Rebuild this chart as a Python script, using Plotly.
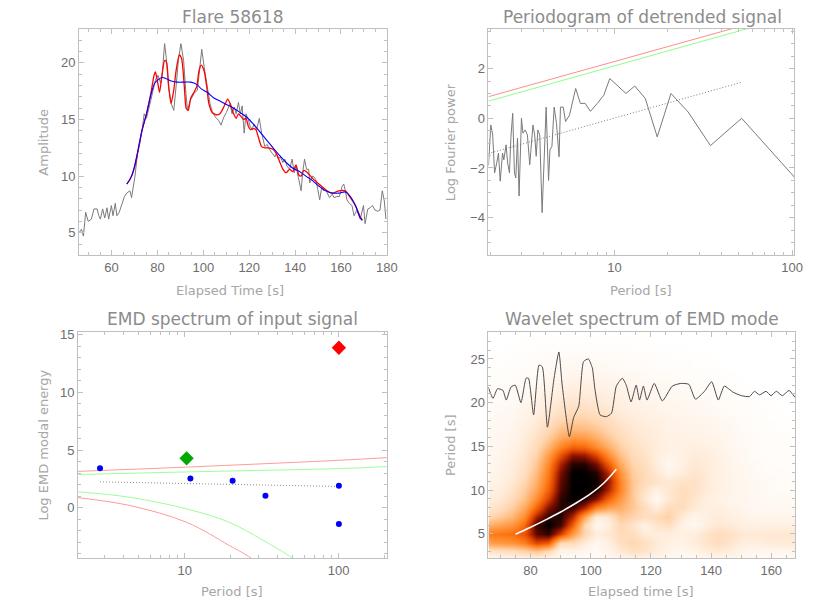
import plotly.graph_objects as go
import math

# ---------------- Panel 1: Flare light curve ----------------
sig_t = [45.8,46.9,47.7,48.7,49.8,51.2,52.3,53.7,54.4,55.1,56.1,57.0,58.0,58.7,59.9,60.6,61.6,62.3,63.3,64.4,
         65.6,66.6,68.0,68.7,69.5,70.2,71.3,72.3,73.3,74.2,75.2,76.2,77.1,78.1,79.1,80.2,81.4,82.1,83.1,83.8,
         84.8,86.0,87.1,88.1,89.1,90.2,91.4,92.4,93.1,94.3,96.0,97.4,98.6,99.3,100.3,101.7,102.9,103.9,105.3,106.7,
         107.7,108.9,110.0,111.0,111.7,112.5,113.5,114.3,115.3,116.1,116.9,117.8,118.6,119.6,120.4,121.2,122.1,123.2,124.4,125.4,
         126.1,126.8,127.8,129.0,130.1,131.2,131.8,132.7,133.5,134.7,135.5,136.4,137.6,138.7,139.6,140.4,141.4,142.6,143.3,144.1,
         145.0,145.9,146.4,147.6,148.4,149.0,149.9,150.7,151.6,152.5,153.3,154.2,155.0,156.2,157.0,158.2,159.3,160.5,161.2,161.9,
         162.6,163.6,164.8,165.7,166.9,168.4,169.1,169.8,170.5,171.7,172.7,173.7,174.8,176.0,177.0,178.0,178.9,179.6]
sig_v = [5.0,5.3,4.7,6.8,6.0,6.2,7.1,7.1,6.5,6.2,7.1,6.3,7.2,6.2,7.4,6.5,7.6,6.5,6.8,7.4,
         8.2,8.5,8.7,8.1,9.0,10.0,12.0,12.9,14.1,15.5,15.1,16.1,16.7,17.6,18.5,18.9,18.2,19.1,21.7,20.5,
         17.9,16.4,15.8,17.9,20.2,21.7,20.2,17.3,15.8,16.7,17.3,17.6,19.7,21.2,19.7,18.0,16.4,15.7,15.2,14.9,
         14.5,15.2,15.6,16.1,16.4,15.5,16.1,15.5,16.5,15.5,16.2,13.8,15.5,15.0,14.4,14.1,14.6,14.1,15.1,13.8,
         13.2,12.6,12.8,12.3,12.0,11.7,12.0,11.5,11.7,11.2,11.5,10.9,10.6,11.5,10.3,10.9,9.9,8.7,10.3,11.5,
         10.6,10.6,9.4,10.0,9.9,9.7,8.8,7.9,9.0,8.7,8.8,8.4,8.1,8.4,8.1,8.2,8.2,9.1,9.3,8.7,
         7.9,7.6,7.4,6.5,7.0,6.2,6.9,7.4,5.8,7.1,7.2,7.4,7.0,6.9,7.0,8.7,7.8,6.2]

emd_t = [66.6,68.0,70.2,71.6,73.3,75.2,77.1,78.5,79.1,79.9,80.9,81.9,83.1,83.9,84.9,85.9,87.1,88.1,89.5,90.5,
         91.7,92.5,93.4,94.5,95.9,97.1,98.1,99.1,100.3,101.4,102.4,103.9,106.0,107.2,108.9,110.6,111.7,113.2,114.3,115.3,
         116.3,117.5,118.6,119.6,120.6,121.8,122.9,123.9,125.4,126.8,128.2,130.1,131.8,133.2,134.7,136.1,137.6,139.0,140.4,141.6,
         142.6,143.8,145.4,147.6,150.4,153.3,156.2,159.1,161.9,164.1,166.3,168.4,169.3]
emd_v = [9.3,9.7,10.9,12.3,14.1,15.5,17.3,18.9,19.2,18.5,17.4,18.8,20.2,20.1,17.9,16.4,17.6,19.3,20.7,20.4,
         17.9,16.0,15.8,16.9,17.4,17.9,19.3,19.8,19.3,18.0,16.4,15.6,15.4,15.5,16.1,16.8,16.4,15.5,15.1,15.5,
         15.3,15.0,15.1,14.4,14.1,14.2,14.1,13.5,12.6,12.5,12.5,12.4,12.0,11.3,10.6,10.3,10.6,10.4,11.0,10.1,
         10.0,10.5,10.3,9.8,9.3,8.8,8.5,8.7,8.7,8.1,7.4,6.4,6.1]

trend_t = [66.6,68.7,70.9,73.0,75.2,77.3,78.8,80.2,81.9,83.8,86.0,88.8,91.7,94.5,97.1,99.1,101.7,104.6,107.4,110.3,
           113.2,116.1,118.9,121.8,124.7,127.5,130.4,133.3,136.1,139.0,141.9,144.7,147.6,150.5,153.3,156.2,159.1,161.9,164.1,166.3,168.4,169.3]
trend_v = [9.3,10.0,11.7,13.8,15.5,17.3,18.2,18.5,18.7,18.6,18.4,18.3,18.3,18.3,18.1,17.7,17.4,16.9,16.6,16.3,
           16.0,15.6,15.2,14.6,13.9,13.2,12.5,11.8,11.2,10.7,10.4,10.0,9.6,9.1,8.7,8.5,8.5,8.6,8.2,7.4,6.3,6.1]

# ---------------- Panel 2: Periodogram ----------------
per_p = [1.95,2.01,2.06,2.11,2.17,2.22,2.27,2.34,2.38,2.45,2.50,2.56,2.61,2.67,2.73,2.78,2.84,2.90,2.99,3.05,
         3.14,3.23,3.33,3.40,3.47,3.55,3.62,3.70,3.79,3.91,4.03,4.12,4.25,4.33,4.44,4.57,4.71,4.87,4.96,5.14,
         5.30,5.58,6.04,6.42,6.83,7.32,8.0,8.7,9.4,10.4,11.6,13.0,14.9,17.4,20.8,26.0,34.7,52.0,104.0]
per_v = [-1.9,-0.27,-0.67,-2.2,-1.8,-1.4,-2.53,-1.4,-1.67,-1.07,-1.8,-2.2,-0.73,0.2,-2.2,-2.4,-0.8,-3.13,0.0,-0.6,
         -0.47,-0.67,-1.87,-1.0,-0.27,-0.67,-1.53,-0.47,-0.67,-3.8,-1.27,0.45,-2.5,-1.27,-1.13,0.45,-0.2,-1.55,0.45,0.45,
         -0.13,0.13,1.2,0.6,0.6,0.28,0.6,0.93,1.6,1.3,1.0,1.3,0.8,-0.75,1.0,0.25,-1.1,0.0,-2.4]
conf99_p = [1.95, 103.0]
conf99_v = [0.87, 4.31]
conf95_p = [1.95, 103.0]
conf95_v = [0.69, 4.14]
fit_p = [1.95, 52.0]
fit_v = [-1.42, 1.45]

# ---------------- Panel 3: EMD spectrum ----------------
emd_per = [2.82, 10.9, 20.5, 33.5, 100.5, 100.5]
emd_en = [3.42, 2.53, 2.33, 1.03, 1.9, -1.41]
sig_mode_per = [10.3]
sig_mode_en = [4.28]
trend_mode_per = [100.5]
trend_mode_en = [13.88]
up99_p = [2.03, 10.3, 99.0, 206.0]
up99_v = [3.15, 3.52, 4.11, 4.34]
up95_p = [2.03, 10.3, 99.0, 206.0]
up95_v = [2.88, 3.10, 3.39, 3.56]
lo99_p = [2.03, 4.46, 10.3, 19.5, 26.9, 30.0]
lo99_v = [0.87, 0.17, -1.27, -3.28, -4.37, -5.0]
lo95_p = [2.03, 4.46, 10.3, 19.5, 31.9, 49.7, 55.0]
lo95_v = [1.38, 0.89, -0.11, -1.27, -2.79, -4.37, -5.0]
emdfit_p = [2.82, 99.0]
emdfit_v = [2.24, 1.84]

# ---------------- Panel 4: Wavelet spectrum ----------------
wav_t = [66, 70, 74, 78, 82, 86, 90, 94, 98, 102, 106, 110, 114, 118, 122, 126, 130, 134, 138, 142, 146, 150, 154, 158, 162, 166, 170]
wav_p = [2, 3, 4, 5, 6, 7, 8, 9, 10, 11, 12, 13, 14, 15, 16, 17, 18, 19, 20, 21, 22, 23, 24, 25, 26, 27, 28]
wav_power = [
    [0.04,0.04,0.05,0.06,0.06,0.05,0.03,0.03,0.03,0.03,0.05,0.06,0.08,0.08,0.06,0.05,0.04,0.04,0.05,0.06,0.06,0.05,0.04,0.04,0.04,0.04,0.04],
    [0.18,0.20,0.22,0.26,0.32,0.24,0.08,0.08,0.06,0.04,0.08,0.14,0.20,0.18,0.12,0.08,0.06,0.08,0.12,0.14,0.12,0.08,0.06,0.06,0.06,0.06,0.06],
    [0.44,0.46,0.48,0.54,0.70,0.64,0.22,0.22,0.13,0.05,0.11,0.20,0.24,0.20,0.14,0.10,0.09,0.12,0.17,0.21,0.17,0.12,0.11,0.13,0.14,0.14,0.13],
    [0.55,0.57,0.59,0.66,0.90,0.95,0.72,0.45,0.25,0.12,0.15,0.22,0.21,0.13,0.12,0.12,0.10,0.12,0.17,0.21,0.19,0.15,0.14,0.15,0.15,0.15,0.14],
    [0.38,0.42,0.47,0.60,0.93,1.00,0.93,0.64,0.25,0.05,0.12,0.24,0.17,0.09,0.17,0.20,0.09,0.05,0.11,0.15,0.14,0.11,0.10,0.10,0.10,0.10,0.10],
    [0.24,0.29,0.36,0.50,0.80,0.95,0.96,0.78,0.42,0.12,0.15,0.30,0.25,0.20,0.22,0.27,0.14,0.07,0.11,0.13,0.11,0.09,0.07,0.07,0.07,0.07,0.07],
    [0.16,0.20,0.28,0.40,0.62,0.85,0.96,0.94,0.78,0.52,0.42,0.38,0.30,0.22,0.12,0.22,0.21,0.14,0.11,0.11,0.09,0.07,0.05,0.05,0.05,0.05,0.05],
    [0.12,0.15,0.22,0.32,0.50,0.72,0.95,1.00,0.97,0.84,0.62,0.45,0.30,0.15,0.05,0.15,0.21,0.17,0.11,0.09,0.07,0.06,0.05,0.04,0.04,0.04,0.04],
    [0.10,0.12,0.18,0.28,0.42,0.63,0.91,1.00,1.00,0.97,0.78,0.52,0.30,0.18,0.10,0.15,0.21,0.19,0.14,0.10,0.08,0.06,0.05,0.04,0.03,0.03,0.03],
    [0.08,0.10,0.15,0.24,0.38,0.59,0.89,1.00,1.00,0.99,0.82,0.52,0.30,0.22,0.18,0.15,0.18,0.19,0.14,0.10,0.08,0.06,0.05,0.04,0.03,0.03,0.03],
    [0.07,0.09,0.13,0.20,0.34,0.56,0.86,1.00,1.00,0.96,0.77,0.47,0.28,0.22,0.15,0.08,0.12,0.17,0.14,0.10,0.08,0.06,0.04,0.03,0.03,0.02,0.02],
    [0.06,0.08,0.12,0.18,0.30,0.51,0.79,0.96,0.96,0.86,0.64,0.39,0.25,0.20,0.12,0.05,0.10,0.15,0.13,0.10,0.07,0.05,0.04,0.03,0.02,0.02,0.02],
    [0.06,0.07,0.10,0.16,0.26,0.44,0.66,0.83,0.81,0.69,0.49,0.32,0.22,0.18,0.12,0.08,0.10,0.13,0.12,0.09,0.07,0.05,0.03,0.02,0.02,0.02,0.02],
    [0.05,0.06,0.09,0.14,0.22,0.36,0.52,0.62,0.60,0.50,0.38,0.27,0.20,0.16,0.12,0.10,0.10,0.11,0.10,0.08,0.06,0.04,0.03,0.02,0.02,0.02,0.02],
    [0.05,0.06,0.08,0.12,0.19,0.28,0.40,0.46,0.45,0.38,0.30,0.22,0.17,0.14,0.12,0.10,0.09,0.09,0.08,0.07,0.05,0.04,0.03,0.02,0.02,0.01,0.01],
    [0.04,0.05,0.07,0.11,0.16,0.23,0.31,0.35,0.34,0.30,0.24,0.19,0.15,0.13,0.11,0.09,0.08,0.08,0.07,0.06,0.05,0.03,0.02,0.02,0.01,0.01,0.01],
    [0.04,0.05,0.06,0.09,0.13,0.19,0.24,0.27,0.27,0.24,0.20,0.16,0.13,0.11,0.10,0.08,0.07,0.07,0.06,0.05,0.04,0.03,0.02,0.01,0.01,0.01,0.01],
    [0.03,0.04,0.05,0.08,0.11,0.15,0.19,0.21,0.21,0.19,0.16,0.13,0.11,0.10,0.08,0.07,0.06,0.06,0.05,0.04,0.03,0.02,0.02,0.01,0.01,0.00,0.00],
    [0.03,0.03,0.04,0.06,0.09,0.12,0.15,0.17,0.17,0.15,0.13,0.11,0.09,0.08,0.07,0.06,0.05,0.05,0.04,0.03,0.03,0.02,0.01,0.01,0.00,0.00,0.00],
    [0.02,0.03,0.04,0.05,0.07,0.09,0.12,0.13,0.13,0.12,0.10,0.09,0.08,0.07,0.06,0.05,0.04,0.04,0.03,0.03,0.02,0.01,0.01,0.00,0.00,0.00,0.00],
    [0.02,0.02,0.03,0.04,0.05,0.07,0.09,0.10,0.10,0.09,0.08,0.07,0.06,0.05,0.05,0.04,0.03,0.03,0.02,0.02,0.01,0.01,0.00,0.00,0.00,0.00,0.00],
    [0.01,0.02,0.02,0.03,0.04,0.05,0.06,0.07,0.07,0.07,0.06,0.05,0.05,0.04,0.03,0.03,0.02,0.02,0.02,0.01,0.01,0.00,0.00,0.00,0.00,0.00,0.00],
    [0.01,0.01,0.02,0.02,0.03,0.04,0.05,0.05,0.05,0.05,0.04,0.04,0.03,0.03,0.02,0.02,0.02,0.01,0.01,0.01,0.00,0.00,0.00,0.00,0.00,0.00,0.00],
    [0.00,0.01,0.01,0.02,0.02,0.03,0.03,0.04,0.04,0.03,0.03,0.03,0.02,0.02,0.02,0.01,0.01,0.01,0.01,0.00,0.00,0.00,0.00,0.00,0.00,0.00,0.00],
    [0.00,0.00,0.01,0.01,0.01,0.02,0.02,0.02,0.02,0.02,0.02,0.02,0.01,0.01,0.01,0.01,0.01,0.00,0.00,0.00,0.00,0.00,0.00,0.00,0.00,0.00,0.00],
    [0.00,0.00,0.00,0.01,0.01,0.01,0.01,0.01,0.01,0.01,0.01,0.01,0.01,0.01,0.00,0.00,0.00,0.00,0.00,0.00,0.00,0.00,0.00,0.00,0.00,0.00,0.00],
    [0.00,0.00,0.00,0.00,0.00,0.00,0.00,0.00,0.00,0.00,0.00,0.00,0.00,0.00,0.00,0.00,0.00,0.00,0.00,0.00,0.00,0.00,0.00,0.00,0.00,0.00,0.00],
]
ridge_t = [75.0, 80.0, 85.0, 90.0, 95.0, 100.0, 104.0, 108.5]
ridge_p = [4.95, 5.75, 6.6, 7.5, 8.5, 9.6, 10.7, 12.4]
mode_t = [65.9,67.5,69.0,70.8,71.9,73.5,74.9,76.8,78.5,79.3,81.0,82.8,83.9,85.6,87.8,89.4,90.5,92.9,94.3,96.0,
          97.6,99.2,100.5,101.4,103.1,105.2,106.9,108.5,110.5,111.8,113.4,115.1,116.2,117.5,118.7,121.1,123.8,127.1,129.9,132.6,
          134.8,137.8,140.2,142.4,144.4,147.3,150.1,152.8,154.4,156.1,158.3,159.9,161.7,163.7,165.9,167.9]
mode_v = [21.8,20.5,21.6,21.4,20.3,21.8,22.0,20.0,22.8,22.8,18.6,24.3,24.1,17.2,22.8,25.8,22.0,16.1,18.3,19.6,
          24.7,25.0,24.0,21.5,18.6,18.4,18.8,21.9,22.8,22.0,20.1,22.0,20.3,21.9,20.3,22.2,20.2,21.9,22.2,22.1,
          20.4,21.3,22.4,20.3,21.9,21.2,20.8,20.7,21.3,20.9,21.3,20.8,21.3,20.8,21.4,20.6]

# ---------------- styling ----------------
FONT = "Liberation Sans"
TFONT = "DejaVu Sans"
TICKC = "#6e6e6e"
TITLEC = "#8c8c8c"
LABC = "#a6a6a6"
LINEC = "#c0c0c0"

# page body has an 8px margin: figure is drawn from (8,8)
OFF = 8
W, H = 830 - OFF, 609 - OFF

fig = go.Figure()

fig.add_trace(go.Scatter(x=sig_t, y=sig_v, mode="lines", line=dict(color="#7a7a7a", width=1), xaxis="x", yaxis="y"))
fig.add_trace(go.Scatter(x=emd_t, y=emd_v, mode="lines", line=dict(color="#ff0000", width=1.3, shape="spline", smoothing=0.6), xaxis="x", yaxis="y"))
fig.add_trace(go.Scatter(x=trend_t, y=trend_v, mode="lines", line=dict(color="#0000ff", width=1.1, shape="spline"), xaxis="x", yaxis="y"))

fig.add_trace(go.Scatter(x=per_p, y=per_v, mode="lines", line=dict(color="#7a7a7a", width=1), xaxis="x2", yaxis="y2"))
fig.add_trace(go.Scatter(x=conf99_p, y=conf99_v, mode="lines", line=dict(color="#ff8c8c", width=1), xaxis="x2", yaxis="y2"))
fig.add_trace(go.Scatter(x=conf95_p, y=conf95_v, mode="lines", line=dict(color="#8cff8c", width=1), xaxis="x2", yaxis="y2"))
fig.add_trace(go.Scatter(x=fit_p, y=fit_v, mode="lines", line=dict(color="#7a7a7a", width=1, dash="1px,2px"), xaxis="x2", yaxis="y2"))

fig.add_trace(go.Scatter(x=up99_p, y=up99_v, mode="lines", line=dict(color="#ff9a9a", width=1, shape="spline"), xaxis="x3", yaxis="y3"))
fig.add_trace(go.Scatter(x=up95_p, y=up95_v, mode="lines", line=dict(color="#9aff9a", width=1, shape="spline"), xaxis="x3", yaxis="y3"))
fig.add_trace(go.Scatter(x=lo99_p, y=lo99_v, mode="lines", line=dict(color="#ff9a9a", width=1, shape="spline"), xaxis="x3", yaxis="y3"))
fig.add_trace(go.Scatter(x=lo95_p, y=lo95_v, mode="lines", line=dict(color="#9aff9a", width=1, shape="spline"), xaxis="x3", yaxis="y3"))
fig.add_trace(go.Scatter(x=emdfit_p, y=emdfit_v, mode="lines", line=dict(color="#8a8a8a", width=1, dash="1px,2px"), xaxis="x3", yaxis="y3"))
fig.add_trace(go.Scatter(x=emd_per, y=emd_en, mode="markers", marker=dict(color="#0000ff", size=6), xaxis="x3", yaxis="y3"))
fig.add_trace(go.Scatter(x=sig_mode_per, y=sig_mode_en, mode="markers", marker=dict(color="#00a800", size=11, symbol="diamond"), xaxis="x3", yaxis="y3"))
fig.add_trace(go.Scatter(x=trend_mode_per, y=trend_mode_en, mode="markers", marker=dict(color="#ff0000", size=11, symbol="diamond"), xaxis="x3", yaxis="y3"))

fig.add_trace(go.Heatmap(x=wav_t, y=wav_p, z=wav_power, zsmooth="best", zmin=0, zmax=1, showscale=False,
                         colorscale=[[0.0, "#ffffff"], [0.12, "#ffeede"], [0.25, "#ffd6af"], [0.4, "#ffaa5f"],
                                     [0.55, "#ff7d19"], [0.7, "#e14600"], [0.85, "#820f00"], [1.0, "#000000"]],
                         xaxis="x4", yaxis="y4"))
fig.add_trace(go.Scatter(x=ridge_t, y=ridge_p, mode="lines", line=dict(color="#ffffff", width=1.5, shape="spline"), xaxis="x4", yaxis="y4"))
fig.add_trace(go.Scatter(x=mode_t, y=mode_v, mode="lines", line=dict(color="#4a4a4a", width=1, shape="spline", smoothing=0.5), xaxis="x4", yaxis="y4"))

def dx(a, b):
    return [(a - OFF) / W, (b - OFF) / W]
def dy(top, bot):
    return [1 - (bot - OFF) / H, 1 - (top - OFF) / H]

def ax(domain, anchor, rng, dtick, minor_dtick, typ="linear"):
    d = dict(domain=domain, anchor=anchor, range=rng, type=typ, showline=True, linecolor=LINEC, linewidth=1,
             mirror="ticks", ticks="inside", ticklen=5, tickcolor=LINEC, showgrid=False, zeroline=False,
             tickfont=dict(family=FONT, size=13, color=TICKC),
             minor=dict(ticks="inside", ticklen=3, tickcolor=LINEC, showgrid=False))
    if typ == "log":
        d["dtick"] = 1
        d["minor"]["dtick"] = "D1"
    else:
        d["dtick"] = dtick
        d["minor"]["dtick"] = minor_dtick
    return d

fig.update_layout(
    width=W, height=H, margin=dict(l=0, r=0, t=0, b=0), paper_bgcolor="white", plot_bgcolor="white",
    showlegend=False,
    xaxis=ax(dx(80, 392), "y", [45.8, 180], 20, 5),
    yaxis=ax(dy(25, 253), "x", [3, 23], 5, 1),
    xaxis2=ax(dx(495, 805), "y2", [math.log10(1.95), math.log10(103)], None, None, "log"),
    yaxis2=ax(dy(25, 253), "x2", [-5.52, 3.6], 2, 0.5),
    xaxis3=ax(dx(79, 392), "y3", [math.log10(2.03), math.log10(206)], None, None, "log"),
    yaxis3=ax(dy(330, 558), "x3", [-4.4, 15.26], 5, 1),
    xaxis4=ax(dx(495, 806), "y4", [66, 168], 20, 5),
    yaxis4=ax(dy(330, 558), "x4", [2.2, 28.1], 5, 1),
)

ann = []
def txt(x, y, s, size, color, angle=0):
    ann.append(dict(x=(x - OFF) / W, y=1 - (y - OFF) / H, xref="paper", yref="paper", text=s, showarrow=False,
                    font=dict(family=TFONT, size=size, color=color), textangle=angle, xanchor="center", yanchor="middle"))
txt(236, 13, "Flare 58618", 17, TITLEC)
txt(651, 13, "Periodogram of detrended signal", 17, TITLEC)
txt(236, 317, "EMD spectrum of input signal", 17, TITLEC)
txt(651, 317, "Wavelet spectrum of EMD mode", 17, TITLEC)
txt(233, 288, "Elapsed Time [s]", 13, LABC)
txt(650, 288, "Period [s]", 13, LABC)
txt(235, 591, "Period [s]", 13, LABC)
txt(650, 591, "Elapsed time [s]", 13, LABC)
txt(44, 139, "Amplitude", 13, LABC, -90)
txt(456, 139, "Log Fourier power", 13, LABC, -90)
txt(44, 444, "Log EMD modal energy", 13, LABC, -90)
txt(456, 444, "Period [s]", 13, LABC, -90)
fig.update_layout(annotations=ann)

fig.write_html("out.html")
